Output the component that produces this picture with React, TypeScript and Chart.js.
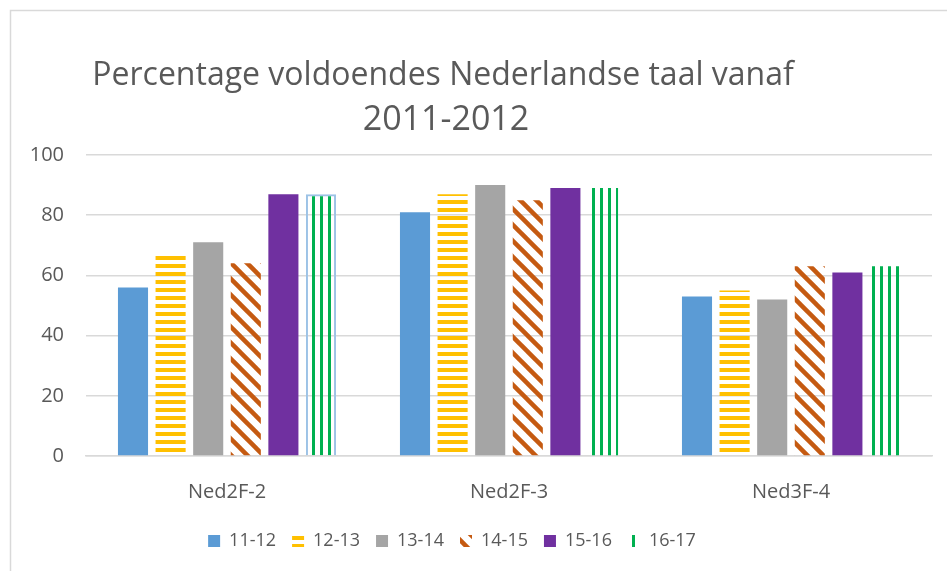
import React, { useEffect, useRef } from "react";
import { Chart, registerables } from "chart.js";

Chart.register(...registerables);

const categories = ["Ned2F-2", "Ned2F-3", "Ned3F-4"];
const seriesNames = ["11-12", "12-13", "13-14", "14-15", "15-16", "16-17"];
const values1112 = [56, 81, 53];
const values1213 = [67, 87, 55];
const values1314 = [71, 90, 52];
const values1415 = [64, 85, 63];
const values1516 = [87, 89, 61];
const values1617 = [87, 89, 63];
const yTicks = [0, 20, 40, 60, 80, 100];
const titleLines = ["Percentage voldoendes Nederlandse taal vanaf", "2011-2012"];

const FONT = "'Open Sans', 'Noto Sans', sans-serif";
const TEXT = "#595959";
const GRID = "#D9D9D9";

function makeTile(w: number, h: number, draw: (c: CanvasRenderingContext2D) => void): CanvasPattern | string {
  const cv = document.createElement("canvas");
  cv.width = w;
  cv.height = h;
  const c = cv.getContext("2d")!;
  draw(c);
  const ctx = document.createElement("canvas").getContext("2d")!;
  return ctx.createPattern(cv, "repeat") || "#000";
}

export default function App() {
  const ref = useRef<HTMLCanvasElement | null>(null);

  useEffect(() => {
    document.body.style.margin = "0";
    const yellow = makeTile(8, 8, (c) => {
      c.fillStyle = "#FFC000";
      c.fillRect(0, 0, 8, 4);
    });
    const orange = makeTile(16, 16, (c) => {
      c.strokeStyle = "#C55A11";
      c.lineWidth = 4.5;
      for (const o of [-16, 0, 16]) {
        c.beginPath();
        c.moveTo(o - 2, -2);
        c.lineTo(o + 18, 18);
        c.stroke();
      }
    });
    const green = makeTile(8, 8, (c) => {
      c.fillStyle = "#00B050";
      c.fillRect(0, 0, 3, 8);
    });

    const fills = ["#5B9BD5", yellow, "#A5A5A5", orange, "#7030A0", green];
    const vals = [values1112, values1213, values1314, values1415, values1516, values1617];

    const bgPlugin = {
      id: "bgBorder",
      afterLayout(chart: any) {
        const lg = chart.legend;
        if (lg) {
          lg.left -= 14;
          lg.right -= 14;
        }
      },
      beforeDraw(chart: any) {
        const c = chart.ctx;
        c.save();
        c.fillStyle = "#fff";
        c.fillRect(0, 0, chart.width, chart.height);
        c.strokeStyle = GRID;
        c.lineWidth = 1.5;
        c.beginPath();
        c.moveTo(10.5, chart.height);
        c.lineTo(10.5, 10.5);
        c.lineTo(chart.width, 10.5);
        c.stroke();
        c.restore();
      },
      afterDraw(chart: any) {
        const c = chart.ctx;
        c.save();
        c.fillStyle = TEXT;
        c.font = `32px ${FONT}`;
        c.textAlign = "center";
        c.textBaseline = "alphabetic";
        c.fillText(titleLines[0], 443, 85);
        c.font = `34px ${FONT}`;
        c.fillText(titleLines[1], 446, 130);
        c.restore();
      },
    };

    const chart = new Chart(ref.current!, {
      type: "bar",
      data: {
        labels: categories,
        datasets: seriesNames.map((name, i) => ({
          label: name,
          data: vals[i],
          backgroundColor: fills[i] as any,
          borderColor: i === 5 ? "#9DC3E6" : "rgba(0,0,0,0)",
          borderWidth: i === 5 ? ((ctx: any) => (ctx.dataIndex === 0 ? 2 : 0)) : 0,
          categoryPercentage: 0.8,
          barPercentage: 0.8,
        })),
      },
      options: {
        responsive: false,
        animation: false,
        layout: { padding: { left: 0, right: 15, top: 155, bottom: 11 } },
        plugins: {
          title: { display: false },
          tooltip: { enabled: false },
          legend: {
            position: "bottom",
            labels: {
              boxWidth: 12,
              boxHeight: 12,
              padding: 16,
              color: TEXT,
              font: { family: FONT, size: 18 },
              generateLabels: (ch: any) =>
                Chart.defaults.plugins.legend.labels
                  .generateLabels(ch)
                  .map((it: any) => ({ ...it, lineWidth: 0, strokeStyle: "rgba(0,0,0,0)" })),
            },
          },
        },
        scales: {
          x: {
            grid: { display: false, drawTicks: false },
            border: { display: true, color: GRID, width: 1.5 },
            ticks: { color: TEXT, font: { family: FONT, size: 20 }, padding: 24 },
            afterFit: (s: any) => {
              s.height = 60;
            },
          },
          y: {
            min: 0,
            max: 100,
            afterBuildTicks: (s: any) => {
              s.ticks = yTicks.map((v) => ({ value: v }));
            },
            grid: { color: GRID, lineWidth: 1.5, drawTicks: false },
            border: { display: false },
            ticks: { color: TEXT, font: { family: FONT, size: 20 }, padding: 22 },
            afterFit: (s: any) => {
              s.width = 86;
            },
          },
        },
      },
      plugins: [bgPlugin],
    });
    return () => chart.destroy();
  }, []);

  return (
    <div style={{ width: 947, height: 571 }}>
      <canvas ref={ref} width={947} height={571} />
    </div>
  );
}
